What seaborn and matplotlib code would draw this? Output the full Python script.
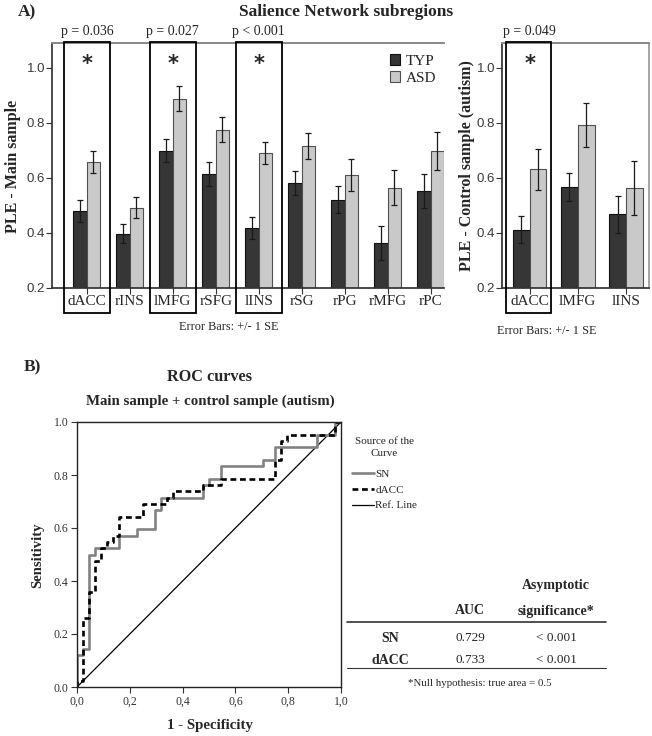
import numpy as np
import pandas as pd
import matplotlib
matplotlib.use('Agg')
import matplotlib.pyplot as plt
from matplotlib.patches import Rectangle
from matplotlib.lines import Line2D
import seaborn as sns

# --- Panel A data: PLE means and standard errors ---
main_regions = ['dACC', 'rINS', 'lMFG', 'rSFG', 'lINS', 'rSG', 'rPG', 'rMFG', 'rPC']
main_typ = [0.480, 0.397, 0.699, 0.614, 0.418, 0.582, 0.521, 0.363, 0.553]
main_asd = [0.657, 0.492, 0.887, 0.775, 0.690, 0.716, 0.612, 0.564, 0.698]
main_typ_se = [0.040, 0.035, 0.042, 0.043, 0.040, 0.043, 0.050, 0.061, 0.061]
main_asd_se = [0.041, 0.038, 0.045, 0.046, 0.039, 0.048, 0.058, 0.064, 0.068]
main_pvals = {'dACC': 'p = 0.036', 'lMFG': 'p = 0.027', 'lINS': 'p < 0.001'}

ctrl_regions = ['dACC', 'lMFG', 'lINS']
ctrl_typ = [0.411, 0.567, 0.468]
ctrl_asd = [0.631, 0.793, 0.563]
ctrl_typ_se = [0.049, 0.050, 0.067]
ctrl_asd_se = [0.074, 0.080, 0.097]
ctrl_pvals = {'dACC': 'p = 0.049'}

groups = ['TYP', 'ASD']
y_ticks = [0.2, 0.4, 0.6, 0.8, 1.0]

# --- Panel B data: ROC curve vertices ---
sn_fpr = [0.0, 0.0, 0.023, 0.023, 0.045, 0.045, 0.068, 0.068, 0.159, 0.159, 0.227, 0.227,
          0.295, 0.295, 0.318, 0.318, 0.477, 0.477, 0.5, 0.5, 0.545, 0.545, 0.705, 0.705,
          0.75, 0.75, 0.909, 0.909, 0.977, 0.977, 1.0]
sn_tpr = [0.0, 0.119, 0.119, 0.143, 0.143, 0.5, 0.5, 0.524, 0.524, 0.571, 0.571, 0.595,
          0.595, 0.667, 0.667, 0.714, 0.714, 0.762, 0.762, 0.786, 0.786, 0.833, 0.833, 0.857,
          0.857, 0.905, 0.905, 0.952, 0.952, 1.0, 1.0]
dacc_fpr = [0.0, 0.0, 0.023, 0.023, 0.045, 0.045, 0.068, 0.068, 0.091, 0.091, 0.114, 0.114,
            0.136, 0.136, 0.159, 0.159, 0.25, 0.25, 0.341, 0.341, 0.364, 0.364, 0.477, 0.477,
            0.545, 0.545, 0.75, 0.75, 0.773, 0.773, 0.795, 0.795, 0.977, 0.977, 1.0]
dacc_tpr = [0.0, 0.024, 0.024, 0.262, 0.262, 0.357, 0.357, 0.476, 0.476, 0.524, 0.524, 0.548,
            0.548, 0.571, 0.571, 0.643, 0.643, 0.690, 0.690, 0.714, 0.714, 0.738, 0.738, 0.762,
            0.762, 0.786, 0.786, 0.857, 0.857, 0.929, 0.929, 0.952, 0.952, 1.0, 1.0]
ref_line = [0.0, 1.0]
roc_ticks = [0.0, 0.2, 0.4, 0.6, 0.8, 1.0]
roc_xticklabels = ['0,0', '0,2', '0,4', '0,6', '0,8', '1,0']
roc_yticklabels = ['0.0', '0.2', '0.4', '0.6', '0.8', '1.0']

auc_rows = ['SN', 'dACC']
auc_vals = ['0.729', '0.733']
auc_sig = ['< 0.001', '< 0.001']

sns.set_theme(style='white')
plt.rcParams['font.family'] = ['Liberation Serif', 'DejaVu Serif']

W, H = 652, 736
fig = plt.figure(figsize=(W / 100, H / 100), dpi=100)


def px_axes(x0, y0, x1, y1):
    return fig.add_axes([x0 / W, 1 - y1 / H, (x1 - x0) / W, (y1 - y0) / H])


def bar_panel(ax, regions, typ, asd, typ_se, asd_se, pvals, width, xlim, box_lo, box_hi, legend):
    n = len(regions)
    df = pd.DataFrame({'region': regions * 2,
                       'group': ['TYP'] * n + ['ASD'] * n,
                       'ple': typ + asd})
    sns.barplot(data=df, x='region', y='ple', hue='group', hue_order=groups,
                palette={'TYP': '#363636', 'ASD': '#c9c9c9'}, width=width,
                errorbar=None, saturation=1, linewidth=0.8, legend=legend, ax=ax)
    for cont, ec, se in zip(ax.containers, ['#111111', '#505050'], [typ_se, asd_se]):
        xs, vals = [], []
        for bar in cont:
            bar.set_edgecolor(ec)
            xs.append(bar.get_x() + bar.get_width() / 2)
            vals.append(bar.get_height())
        ax.errorbar(xs, vals, yerr=se, fmt='none', ecolor='#1a1a1a',
                    elinewidth=0.9, capsize=2.2, capthick=0.9)
    ax.set_ylim(0.2, 1.09)
    ax.set_xlim(*xlim)
    ax.set_yticks(y_ticks)
    ax.set_yticklabels([f'{t:.1f}' for t in y_ticks], fontsize=9.5, color='#3a3a3a')
    for lab in ax.get_yticklabels():
        lab.set_fontfamily(['Liberation Sans', 'DejaVu Sans'])
    ax.tick_params(axis='y', direction='out', length=4, width=0.8, color='#333333',
                   left=True, pad=1)
    ax.tick_params(axis='x', direction='inout', length=8, width=0.8, color='#333333',
                   bottom=True, pad=1, labelsize=11)
    ax.set_xlabel('')
    ax.set_ylabel('')
    ax.spines['left'].set_color('#333333')
    ax.spines['bottom'].set_color('#333333')
    ax.spines['top'].set_color('#888888')
    ax.spines['top'].set_linewidth(1.4)
    ax.spines['right'].set_color('#999999')
    trans = ax.get_xaxis_transform()
    for i, r in enumerate(regions):
        if r in pvals:
            ax.add_patch(Rectangle((i - box_lo, -0.102), box_lo + box_hi, 1.106,
                                   fill=False, lw=1.3, ec='black', clip_on=False,
                                   transform=trans, zorder=5))
            ax.text(i, 1.045, pvals[r], transform=trans, ha='center', va='center',
                    fontsize=10)
            ax.text(i, 0.915, '*', transform=trans, ha='center', va='center',
                    fontsize=15, fontweight='bold', family='DejaVu Sans')


# Panel A, main sample
ax1 = px_axes(52, 43, 444, 288)
bar_panel(ax1, main_regions, main_typ, main_asd, main_typ_se, main_asd_se, main_pvals,
          0.62, (-0.81, 8.31), 0.52, 0.54, True)
ax1.spines['right'].set_visible(False)
handles, labels = ax1.get_legend_handles_labels()
for h, ec in zip(handles, ['#111111', '#505050']):
    h.set_edgecolor(ec)
    h.set_linewidth(0.8)
ax1.legend(handles, labels, loc='upper right', bbox_to_anchor=(1.0, 0.985), frameon=False,
           fontsize=11, handlelength=0.65, handleheight=0.7, handletextpad=0.4,
           labelspacing=0.2, borderaxespad=0.1)

# Panel A, control sample
ax2 = px_axes(502, 43, 649, 288)
bar_panel(ax2, ctrl_regions, ctrl_typ, ctrl_asd, ctrl_typ_se, ctrl_asd_se, ctrl_pvals,
          0.70, (-0.573, 2.477), 0.5, 0.45, False)

fig.text(18 / W, 1 - 12 / H, 'A)', fontsize=12.5, fontweight='bold', ha='left', va='center')
fig.text(346 / W, 1 - 12 / H, 'Salience Network subregions', fontsize=12.5,
         fontweight='bold', ha='center', va='center')
fig.text(13 / W, 1 - 166 / H, 'PLE - Main sample', fontsize=11.5, fontweight='bold',
         rotation=90, ha='center', va='center')
fig.text(467 / W, 1 - 166 / H, 'PLE - Control sample (autism)', fontsize=11.5,
         fontweight='bold', rotation=90, ha='center', va='center')
fig.text(229 / W, 1 - 327 / H, 'Error Bars: +/- 1 SE', fontsize=8.8, ha='center', va='center')
fig.text(547 / W, 1 - 331 / H, 'Error Bars: +/- 1 SE', fontsize=8.8, ha='center', va='center')

# Panel B, ROC curves
ax3 = px_axes(77, 422, 341, 687)
sns.lineplot(x=ref_line, y=ref_line, color='black', lw=0.9, sort=False, estimator=None,
             ax=ax3, label='Ref. Line', legend=False)
sns.lineplot(x=sn_fpr, y=sn_tpr, color='#828282', lw=1.9, sort=False, estimator=None,
             ax=ax3, label='SN', legend=False)
sns.lineplot(x=dacc_fpr, y=dacc_tpr, color='black', lw=1.9, sort=False, estimator=None,
             ax=ax3, label='dACC', legend=False, dashes=False)
ax3.lines[-1].set_linestyle((0, (2.2, 1.4)))
ax3.set_xlim(0, 1)
ax3.set_ylim(0, 1)
ax3.set_xticks(roc_ticks)
ax3.set_xticklabels(roc_xticklabels, fontsize=8.5, color='#333333')
ax3.set_yticks(roc_ticks)
ax3.set_yticklabels(roc_yticklabels, fontsize=8.5, color='#333333')
ax3.tick_params(direction='out', length=4, width=0.8, color='#333333', left=True,
                bottom=True, pad=2)
for s in ax3.spines.values():
    s.set_color('#222222')
    s.set_linewidth(1.0)
ax3.set_xlabel('')
ax3.set_ylabel('')

fig.text(24 / W, 1 - 367 / H, 'B)', fontsize=12.5, fontweight='bold', ha='left', va='center')
fig.text(210 / W, 1 - 377 / H, 'ROC curves', fontsize=11.7, fontweight='bold',
         ha='center', va='center')
fig.text(210 / W, 1 - 401 / H, 'Main sample + control sample (autism)', fontsize=10.7,
         fontweight='bold', ha='center', va='center')
fig.text(38 / W, 1 - 555 / H, 'Sensitivity', fontsize=10.5, fontweight='bold',
         rotation=90, ha='center', va='center')
fig.text(210 / W, 1 - 726 / H, '1 - Specificity', fontsize=10.7, fontweight='bold',
         ha='center', va='center')

roc_handles = [ax3.lines[1], ax3.lines[2], ax3.lines[0]]
leg = fig.legend(roc_handles, ['SN', 'dACC', 'Ref. Line'], title='Source of the\nCurve',
                 loc='upper left', bbox_to_anchor=(352 / W, 1 - 437 / H), frameon=False,
                 fontsize=8, title_fontsize=8, handlelength=2.0, handletextpad=0.1,
                 labelspacing=0.55, borderaxespad=0, borderpad=0)
leg.get_title().set_multialignment('center')
leg.get_title().set_linespacing(1.4)
leg._legend_box.sep = 8

# AUC table
tax = px_axes(340, 570, 620, 700)
tax.set_xlim(340, 620)
tax.set_ylim(700, 570)
tax.axis('off')
col_x = [390, 470, 556]
tax.text(col_x[2], 585, 'Asymptotic', fontsize=10, fontweight='bold', ha='center', va='center')
tax.text(col_x[1], 611, 'AUC', fontsize=10, fontweight='bold', ha='center', va='center')
tax.text(col_x[2], 611, 'significance*', fontsize=10, fontweight='bold', ha='center', va='center')
tax.add_line(Line2D([347, 606], [622, 622], color='#333333', lw=1.2))
for j, (r, a, p) in enumerate(zip(auc_rows, auc_vals, auc_sig)):
    y = 638 + j * 22
    tax.text(col_x[0], y, r, fontsize=10, fontweight='bold', ha='center', va='center')
    tax.text(col_x[1], y, a, fontsize=9.5, ha='center', va='center')
    tax.text(col_x[2], y, p, fontsize=9.5, ha='center', va='center')
tax.add_line(Line2D([347, 606], [668, 668], color='#333333', lw=0.8))
tax.text(480, 684, '*Null hypothesis: true area = 0.5', fontsize=7.8, ha='center', va='center')

fig.savefig('out.png', dpi=100)
